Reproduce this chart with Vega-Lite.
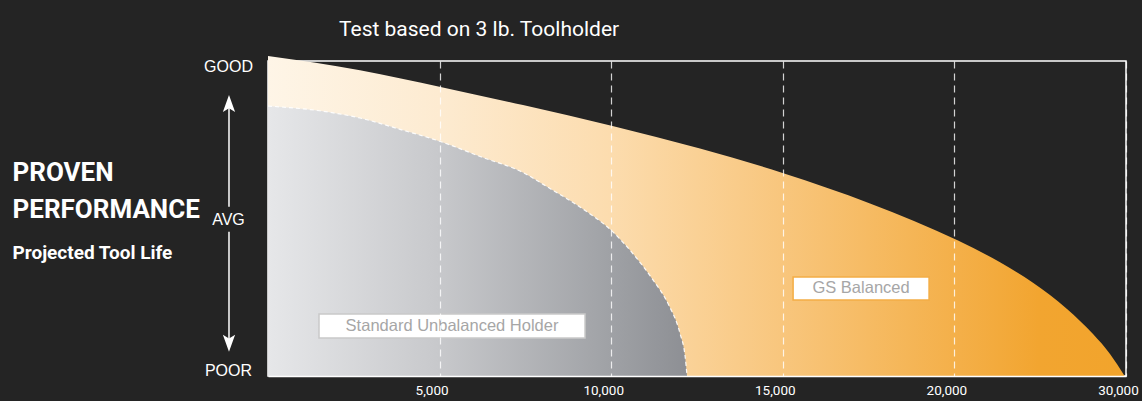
{
  "$schema": "https://vega.github.io/schema/vega-lite/v6.json",
  "width": 858,
  "height": 315,
  "autosize": {"type": "none"},
  "padding": {"left": 268, "top": 61, "right": 16, "bottom": 25},
  "background": "#242424",
  "title": {
    "text": "Test based on 3 lb. Toolholder",
    "anchor": "start",
    "frame": "group",
    "dx": 71,
    "offset": -1,
    "baseline": "alphabetic",
    "font": "Roboto, sans-serif",
    "fontSize": 21,
    "fontWeight": "normal",
    "color": "#ffffff"
  },
  "config": {"view": {"stroke": "#ffffff", "strokeWidth": 1.5}},
  "datasets": {
    "curves": [
      {"series": "GS Balanced", "x": 0, "y": 101.6},
      {"series": "GS Balanced", "x": 2681, "y": 97.1},
      {"series": "GS Balanced", "x": 5061, "y": 91.7},
      {"series": "GS Balanced", "x": 7430, "y": 86.0},
      {"series": "GS Balanced", "x": 10038, "y": 79.4},
      {"series": "GS Balanced", "x": 12587, "y": 72.2},
      {"series": "GS Balanced", "x": 15015, "y": 64.4},
      {"series": "GS Balanced", "x": 17541, "y": 54.8},
      {"series": "GS Balanced", "x": 20105, "y": 43.0},
      {"series": "GS Balanced", "x": 21329, "y": 36.1},
      {"series": "GS Balanced", "x": 22290, "y": 29.6},
      {"series": "GS Balanced", "x": 23281, "y": 21.3},
      {"series": "GS Balanced", "x": 24039, "y": 13.3},
      {"series": "GS Balanced", "x": 24534, "y": 7.0},
      {"series": "GS Balanced", "x": 24960, "y": 0},
      {"series": "Standard Unbalanced Holder", "x": 0, "y": 85.7},
      {"series": "Standard Unbalanced Holder", "x": 1500, "y": 84.2},
      {"series": "Standard Unbalanced Holder", "x": 2681, "y": 81.9},
      {"series": "Standard Unbalanced Holder", "x": 3846, "y": 78.3},
      {"series": "Standard Unbalanced Holder", "x": 5061, "y": 74.3},
      {"series": "Standard Unbalanced Holder", "x": 6200, "y": 69.6},
      {"series": "Standard Unbalanced Holder", "x": 7430, "y": 64.6},
      {"series": "Standard Unbalanced Holder", "x": 8217, "y": 59.5},
      {"series": "Standard Unbalanced Holder", "x": 9179, "y": 53.0},
      {"series": "Standard Unbalanced Holder", "x": 10024, "y": 46.0},
      {"series": "Standard Unbalanced Holder", "x": 10636, "y": 38.8},
      {"series": "Standard Unbalanced Holder", "x": 11218, "y": 30.5},
      {"series": "Standard Unbalanced Holder", "x": 11655, "y": 23.0},
      {"series": "Standard Unbalanced Holder", "x": 12005, "y": 13.5},
      {"series": "Standard Unbalanced Holder", "x": 12150, "y": 6.5},
      {"series": "Standard Unbalanced Holder", "x": 12210, "y": 0}
    ],
    "boxes": [
      {"series": "Standard Unbalanced Holder", "label": "Standard Unbalanced Holder", "x": 1486, "x2": 9237, "y": 12.1, "y2": 19.7, "tx": 5362, "ty": 15.9},
      {"series": "GS Balanced", "label": "GS Balanced", "x": 15300, "x2": 19262, "y": 24.1, "y2": 31.4, "tx": 17280, "ty": 27.8}
    ],
    "shaft": [
      {"x": -1136.5, "y": 86.0, "y2": 53.7},
      {"x": -1136.5, "y": 45.8, "y2": 9.3}
    ],
    "heads": [
      {"x": -1136.5, "y": 86.5, "dir": "up"},
      {"x": -1136.5, "y": 10.4, "dir": "down"}
    ]
  },
  "layer": [
    {
      "data": {"name": "curves"},
      "transform": [{"filter": "datum.series == 'GS Balanced'"}],
      "mark": {
        "type": "area",
        "interpolate": "monotone",
        "fill": {
          "gradient": "linear", "x1": 0, "x2": 1, "y1": 0, "y2": 0,
          "stops": [
            {"offset": 0, "color": "#fef5e7"},
            {"offset": 0.2, "color": "#fdebd1"},
            {"offset": 0.4, "color": "#fcdcae"},
            {"offset": 0.6, "color": "#f8c67d"},
            {"offset": 0.8, "color": "#f4b04a"},
            {"offset": 0.9, "color": "#f2a530"},
            {"offset": 1, "color": "#f2a42c"}
          ]
        }
      },
      "encoding": {
        "x": {
          "field": "x", "type": "quantitative",
          "scale": {"domain": [0, 25000], "nice": false, "zero": false},
          "axis": {
            "values": [5000, 10000, 15000, 20000, 25000],
            "labelExpr": "datum.value == 25000 ? '30,000' : format(datum.value, ',')",
            "grid": true, "gridColor": "#ffffff", "gridOpacity": 0.8, "gridDash": [7, 5], "gridWidth": 1.2,
            "domainColor": "#ffffff", "domainWidth": 1.5,
            "ticks": false,
            "labelColor": "#ffffff",
            "labelFont": "Roboto, sans-serif",
            "labelFontSize": 13.5,
            "labelPadding": 7,
            "labelOffset": -8,
            "labelFlush": false, "labelOverlap": false, "labelBound": false,
            "zindex": 1,
            "title": "Projected Tool Life",
            "titleX": -256, "titleY": -118,
            "titleAlign": "left", "titleBaseline": "alphabetic", "titleAngle": 0,
            "titleFont": "Roboto, sans-serif",
            "titleFontSize": 19, "titleFontWeight": "bold", "titleColor": "#ffffff"
          }
        },
        "y": {
          "field": "y", "type": "quantitative",
          "scale": {"domain": [0, 100], "nice": false, "zero": false},
          "axis": {
            "values": [1.6, 49.8, 98.1],
            "labelExpr": "datum.value > 90 ? 'GOOD' : (datum.value > 40 ? 'AVG' : 'POOR')",
            "grid": false, "domain": false, "ticks": false,
            "labelAlign": "center", "labelBaseline": "middle", "labelPadding": 40,
            "labelColor": "#ffffff", "labelFont": "Liberation Sans, Arial, sans-serif", "labelFontSize": 16,
            "labelOverlap": false, "labelBound": false, "labelFlush": false,
            "title": ["PROVEN", "PERFORMANCE"],
            "titleAngle": 0, "titleAlign": "left", "titleBaseline": "alphabetic",
            "titleX": -256, "titleY": 119,
            "titleFont": "Roboto, sans-serif",
            "titleFontSize": 26, "titleFontWeight": "bold", "titleColor": "#ffffff",
            "titleLineHeight": 37
          }
        }
      }
    },
    {
      "data": {"name": "curves"},
      "transform": [{"filter": "datum.series == 'Standard Unbalanced Holder'"}],
      "mark": {
        "type": "area",
        "interpolate": "monotone",
        "fill": {
          "gradient": "linear", "x1": 0, "x2": 1, "y1": 0, "y2": 0,
          "stops": [
            {"offset": 0, "color": "#e6e7e9"},
            {"offset": 0.4, "color": "#c8c9cc"},
            {"offset": 0.8, "color": "#a1a3a7"},
            {"offset": 1, "color": "#8d8f94"}
          ]
        }
      },
      "encoding": {
        "x": {"field": "x", "type": "quantitative"},
        "y": {"field": "y", "type": "quantitative"}
      }
    },
    {
      "data": {"name": "curves"},
      "transform": [{"filter": "datum.series == 'Standard Unbalanced Holder'"}],
      "mark": {"type": "line", "interpolate": "monotone", "color": "#ffffff", "strokeWidth": 1.2, "strokeDash": [4, 3], "opacity": 0.9},
      "encoding": {
        "x": {"field": "x", "type": "quantitative"},
        "y": {"field": "y", "type": "quantitative"}
      }
    },
    {
      "data": {"name": "boxes"},
      "mark": {"type": "rect", "fill": "#ffffff", "strokeWidth": 1.5},
      "encoding": {
        "x": {"field": "x", "type": "quantitative"},
        "x2": {"field": "x2"},
        "y": {"field": "y", "type": "quantitative"},
        "y2": {"field": "y2"},
        "stroke": {
          "field": "series", "type": "nominal",
          "scale": {"domain": ["Standard Unbalanced Holder", "GS Balanced"], "range": ["#c9c9c9", "#f4ad45"]},
          "legend": null
        }
      }
    },
    {
      "data": {"name": "boxes"},
      "mark": {"type": "text", "align": "center", "baseline": "middle", "font": "Liberation Sans, Arial, sans-serif", "fontSize": 16.5, "fill": "#a6a6a6"},
      "encoding": {
        "x": {"field": "tx", "type": "quantitative"},
        "y": {"field": "ty", "type": "quantitative"},
        "text": {"field": "label"}
      }
    },
    {
      "data": {"name": "shaft"},
      "mark": {"type": "rule", "color": "#ffffff", "strokeWidth": 1.5},
      "encoding": {
        "x": {"field": "x", "type": "quantitative"},
        "y": {"field": "y", "type": "quantitative"},
        "y2": {"field": "y2"}
      }
    },
    {
      "data": {"name": "heads"},
      "transform": [{"filter": "datum.dir == 'up'"}],
      "mark": {"type": "point", "filled": true, "color": "#ffffff", "opacity": 1, "size": 289, "shape": "M0,-1L0.72,1L0,0.55L-0.72,1Z"},
      "encoding": {
        "x": {"field": "x", "type": "quantitative"},
        "y": {"field": "y", "type": "quantitative"}
      }
    },
    {
      "data": {"name": "heads"},
      "transform": [{"filter": "datum.dir == 'down'"}],
      "mark": {"type": "point", "filled": true, "color": "#ffffff", "opacity": 1, "size": 289, "shape": "M0,1L0.72,-1L0,-0.55L-0.72,-1Z"},
      "encoding": {
        "x": {"field": "x", "type": "quantitative"},
        "y": {"field": "y", "type": "quantitative"}
      }
    }
  ]
}
